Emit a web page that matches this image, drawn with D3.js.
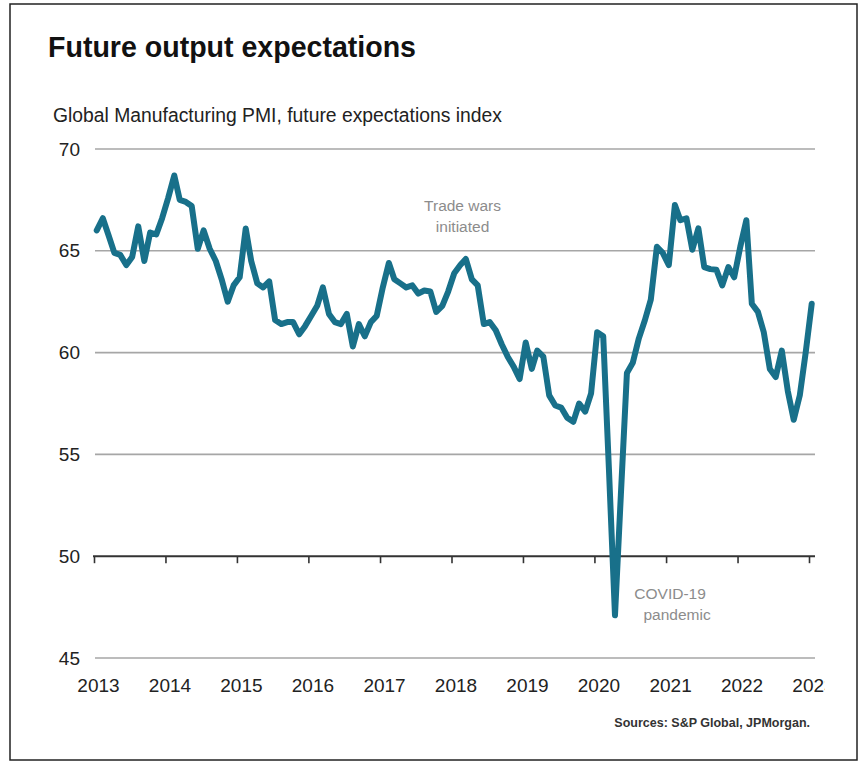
<!DOCTYPE html>
<html>
<head>
<meta charset="utf-8">
<script src="https://cdn.jsdelivr.net/npm/d3@7"></script>
<style>
  html, body { margin: 0; padding: 0; background: #fff; }
  svg { display: block; font-family: "Liberation Sans", Arial, sans-serif; }
</style>
</head>
<body>
<svg id="chart" width="867" height="764"></svg>
<script>
// ---- Data (monthly, Jan 2013 – Jan 2023) ----
const startYear = 2013;
const startMonth = 0; // January
const values = [
  // 2013
  66.0, 66.6, 65.8, 64.9, 64.8, 64.3, 64.7, 66.2, 64.5, 65.9, 65.8, 66.6,
  // 2014
  67.6, 68.7, 67.5, 67.4, 67.2, 65.1, 66.0, 65.1, 64.5, 63.6, 62.5, 63.3,
  // 2015
  63.7, 66.1, 64.5, 63.4, 63.2, 63.5, 61.6, 61.4, 61.5, 61.5, 60.9, 61.3,
  // 2016
  61.8, 62.3, 63.2, 61.9, 61.5, 61.4, 61.9, 60.3, 61.4, 60.8, 61.5, 61.8,
  // 2017
  63.2, 64.4, 63.6, 63.4, 63.2, 63.3, 62.9, 63.05, 63.0, 62.0, 62.3, 63.0,
  // 2018
  63.9, 64.3, 64.6, 63.6, 63.3, 61.4, 61.5, 61.1, 60.4, 59.8, 59.3, 58.7,
  // 2019
  60.5, 59.2, 60.1, 59.8, 57.9, 57.4, 57.3, 56.8, 56.6, 57.5, 57.1, 58.0,
  // 2020
  61.0, 60.8, 54.3, 47.1, 53.0, 59.0, 59.5, 60.7, 61.6, 62.6, 65.2, 64.9,
  // 2021
  64.3, 67.25, 66.5, 66.6, 65.05, 66.1, 64.2, 64.1, 64.07, 63.3, 64.2, 63.7,
  // 2022
  65.2, 66.5, 62.4, 62.0, 61.0, 59.2, 58.8, 60.1, 58.1, 56.7, 57.9, 60.0,
  // 2023
  62.4
];
const yTicks = [45, 50, 55, 60, 65, 70];
const xTickYears = [2013, 2014, 2015, 2016, 2017, 2018, 2019, 2020, 2021, 2022, 2023];
const titleText = "Future output expectations";
const subtitleText = "Global Manufacturing PMI, future expectations index";
const sourceText = "Sources: S&P Global, JPMorgan.";
const annotations = [
  { lines: ["Trade wars", "initiated"], date: [2018, 1], value: 66.95, dxs: [5, 5] },
  { lines: ["COVID-19", "pandemic"], date: [2021, 0], value: 47.9, dxs: [4, 11] }
];

// ---- Build ----
const data = values.map((v, i) => ({ date: new Date(startYear, startMonth + i, 15), value: v }));

const svg = d3.select("#chart");

// frame
svg.append("rect")
  .attr("x", 10).attr("y", 4).attr("width", 847).attr("height", 756)
  .attr("fill", "none").attr("stroke", "#222").attr("stroke-width", 1.5);

const x = d3.scaleTime()
  .domain([new Date(2013, 0, 1), new Date(2023, 0, 1)])
  .range([94, 809]);
const y = d3.scaleLinear().domain([45, 70]).range([658, 149]);

// titles
svg.append("text").attr("x", 48).attr("y", 57)
  .attr("font-size", 30).attr("font-weight", "bold").attr("fill", "#111")
  .attr("textLength", 368).attr("lengthAdjust", "spacingAndGlyphs")
  .text(titleText);
svg.append("text").attr("x", 53).attr("y", 122)
  .attr("font-size", 20).attr("fill", "#222")
  .attr("textLength", 449).attr("lengthAdjust", "spacingAndGlyphs")
  .text(subtitleText);

// gridlines
const gridX0 = 95, gridX1 = 815;
svg.append("g").selectAll("line")
  .data(yTicks.filter(t => t !== 50))
  .join("line")
  .attr("x1", gridX0).attr("x2", gridX1)
  .attr("y1", d => y(d)).attr("y2", d => y(d))
  .attr("stroke", "#a6a6a6").attr("stroke-width", 1.6);

// y axis labels
const yAxis = d3.axisLeft(y).tickValues(yTicks).tickSize(0).tickPadding(15).tickFormat(d3.format("d"));
const gy = svg.append("g").attr("transform", `translate(${gridX0},0)`).call(yAxis);
gy.select(".domain").remove();
gy.selectAll("text").attr("font-size", 19).attr("fill", "#222")
  .attr("font-family", "'Liberation Sans', Arial, sans-serif");

// x axis line at 50 with ticks
const xAxisTicks = d3.axisBottom(x)
  .tickValues(xTickYears.map(yr => new Date(yr, 0, 1)))
  .tickSize(7).tickSizeOuter(0).tickFormat("");
const gxt = svg.append("g").attr("transform", `translate(0,${y(50)})`).call(xAxisTicks);
gxt.select(".domain").remove();
gxt.selectAll(".tick line").attr("stroke", "#333").attr("stroke-width", 1.6);
svg.append("line")
  .attr("x1", 93).attr("x2", gridX1)
  .attr("y1", y(50)).attr("y2", y(50))
  .attr("stroke", "#333").attr("stroke-width", 2);

// x axis labels below chart (clipped at right like the reference)
svg.append("clipPath").attr("id", "xlabClip")
  .append("rect").attr("x", 0).attr("y", 600).attr("width", 825).attr("height", 150);
const xAxisLabels = d3.axisBottom(x)
  .tickValues(xTickYears.map(yr => new Date(yr, 0, 1)))
  .tickSize(0).tickPadding(21).tickFormat(d3.timeFormat("%Y"));
const gxl = svg.append("g").attr("clip-path", "url(#xlabClip)")
  .append("g").attr("transform", `translate(4,${y(45)})`).call(xAxisLabels);
gxl.select(".domain").remove();
gxl.selectAll("text").attr("font-size", 19).attr("fill", "#222")
  .attr("font-family", "'Liberation Sans', Arial, sans-serif");

// line
const line = d3.line().x(d => x(d.date)).y(d => y(d.value)).curve(d3.curveLinear);
svg.append("path").datum(data)
  .attr("d", line)
  .attr("fill", "none")
  .attr("stroke", "#18708a")
  .attr("stroke-width", 6)
  .attr("stroke-linejoin", "round")
  .attr("stroke-linecap", "round");

// annotations
annotations.forEach(a => {
  const ax = x(new Date(a.date[0], a.date[1], 1));
  const ay = y(a.value);
  const t = svg.append("text").attr("text-anchor", "middle")
    .attr("font-size", 15.5).attr("fill", "#8c8c8c");
  a.lines.forEach((l, i) => {
    t.append("tspan").attr("x", ax + a.dxs[i]).attr("y", ay + i * 21).text(l);
  });
});

// source
svg.append("text").attr("x", 810).attr("y", 727)
  .attr("text-anchor", "end").attr("font-size", 12.5).attr("font-weight", "bold")
  .attr("fill", "#333").text(sourceText);
</script>
</body>
</html>
